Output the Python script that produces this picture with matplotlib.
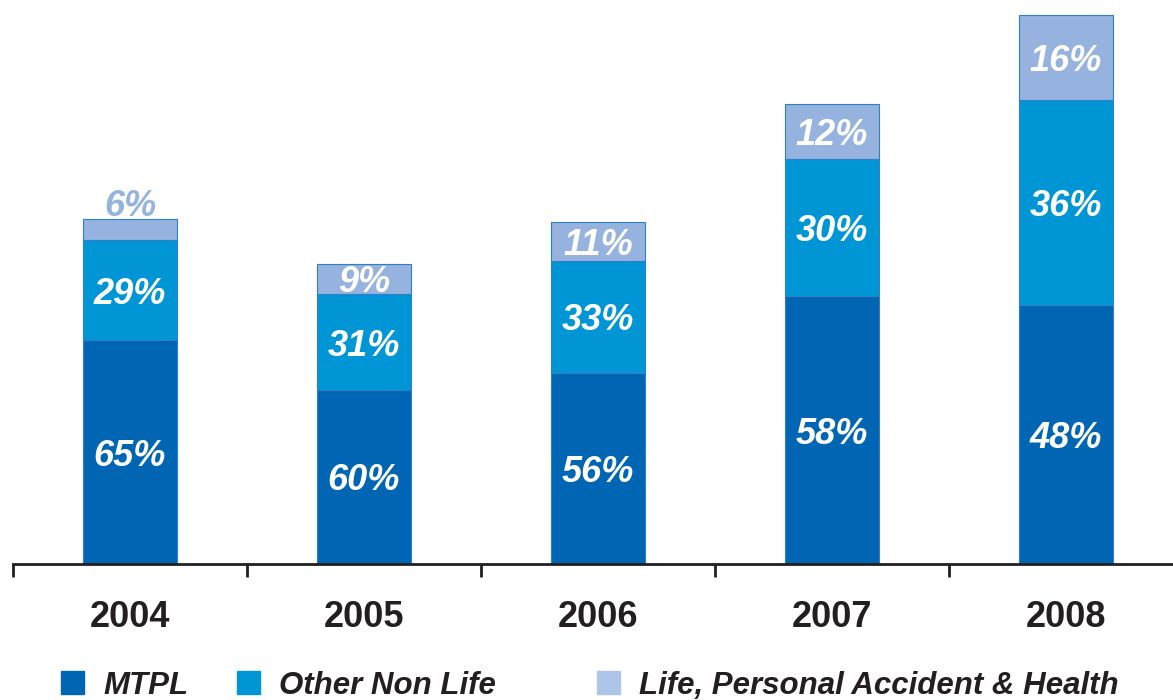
import matplotlib

matplotlib.use('Agg')

import matplotlib.pyplot as plt
from matplotlib.patches import Rectangle

anos = ['2004', '2005', '2006', '2007', '2008']
series = ['MTPL', 'Other Non Life', 'Life, Personal Accident & Health']
# altura de cada segmento (unidades arbitrarias)
mtpl = [224, 174, 191, 268, 259]
outros = [100, 96, 112, 137, 205]
vida = [21, 30, 39, 55, 85]
rotulos_mtpl = ['65%', '60%', '56%', '58%', '48%']
rotulos_outros = ['29%', '31%', '33%', '30%', '36%']
rotulos_vida = ['6%', '9%', '11%', '12%', '16%']

cores = ['#0066b3', '#0096d6', '#95b3de']
cor_legenda = ['#0066b3', '#0096d6', '#adc5e6']
escuro = '#231f20'

plt.rcParams['font.family'] = ['Liberation Sans', 'DejaVu Sans']

fig = plt.figure(figsize=(11.73, 7), dpi=100)
ax = fig.add_axes([13 / 1173, 136 / 700, 1160 / 1173, 564 / 700])

x = list(range(len(anos)))
larg = 94 / 234
borda = dict(edgecolor='#2f7fc4', linewidth=0.8)
ax.bar(x, mtpl, larg, color=cores[0], **borda)
base2 = mtpl
ax.bar(x, outros, larg, bottom=base2, color=cores[1], **borda)
base3 = [a + b for a, b in zip(mtpl, outros)]
ax.bar(x, vida, larg, bottom=base3, color=cores[2], **borda)

estilo = dict(ha='center', va='center', fontsize=26, fontweight='bold',
              fontstyle='italic', color='white')
d = -4  # ajuste vertical dos rotulos
for i in x:
    ax.text(i, mtpl[i] / 2 + d, rotulos_mtpl[i], **estilo)
    ax.text(i, mtpl[i] + outros[i] / 2 + d, rotulos_outros[i], **estilo)
    if vida[i] < 25:
        ax.text(i, base3[i] + vida[i] + 16 + d, rotulos_vida[i],
                **{**estilo, 'color': cores[2]})
    else:
        ax.text(i, base3[i] + vida[i] / 2 + d, rotulos_vida[i], **estilo)

ax.set_xlim(-0.5, -0.5 + 1160 / 234)
ax.set_ylim(0, 564)
for lado in ['top', 'right', 'left']:
    ax.spines[lado].set_visible(False)
ax.spines['bottom'].set_color(escuro)
ax.spines['bottom'].set_linewidth(2)
ax.set_yticks([])
ax.set_xticks([i - 0.5 for i in x])
ax.set_xticklabels([])
ax.tick_params(axis='x', which='major', direction='out', length=9,
               width=2, color=escuro)
ax.set_xticks(x, minor=True)
ax.set_xticklabels(anos, minor=True, fontsize=26, fontweight='bold', color=escuro)
ax.tick_params(axis='x', which='minor', length=0, pad=26)

# legenda desenhada a mao (espacamento irregular no original)
pos_leg = [61, 237, 597]
for px, nome, c in zip(pos_leg, series, cor_legenda):
    fig.patches.append(Rectangle((px / 1173, 6 / 700), 23 / 1173, 23 / 700,
                                 transform=fig.transFigure, color=c))
    fig.text((px + 42) / 1173, 14 / 700, nome, ha='left', va='center',
             fontsize=22.5, fontweight='bold', fontstyle='italic', color=escuro)

plt.savefig('out.png', dpi=100)
